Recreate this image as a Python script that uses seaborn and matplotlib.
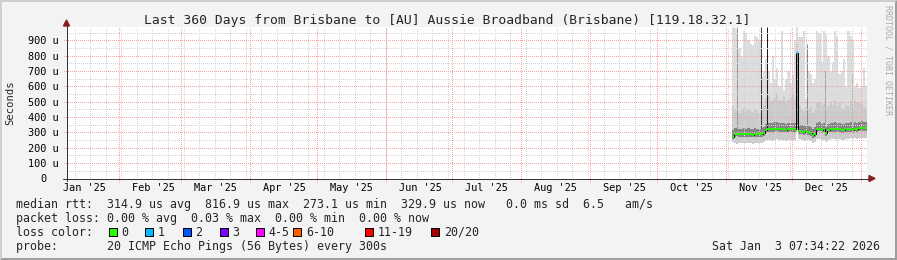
import numpy as np
import pandas as pd
import matplotlib
matplotlib.use("Agg")
import matplotlib.pyplot as plt
import matplotlib.transforms as mtransforms
from matplotlib.patches import Rectangle, Polygon
import seaborn as sns

# ---------------- data ----------------
title = "Last 360 Days from Brisbane to [AU] Aussie Broadband (Brisbane) [119.18.32.1]"
range_start = "2025-01-08 07:34:22"
range_end = "2026-01-03 07:34:22"
data_start = "2025-11-03 16:00"          # first daily sample
y_ticks = [100, 200, 300, 400, 500, 600, 700, 800, 900]
month_labels = ["Jan '25", "Feb '25", "Mar '25", "Apr '25", "May '25", "Jun '25",
                "Jul '25", "Aug '25", "Sep '25", "Oct '25", "Nov '25", "Dec '25"]

# median rtt per day (microseconds)
median_us = [273, 290, 292, 289, 288, 290, 287, 289, 288, 286, 290, 289, 287, 291, 296,
             318, 322, 323, 321, 325, 326, 323, 321, 322, 318, 320, 322, 324, 320, 817,
             312, 306, 300, 308, 303, 298, 282, 290, 322, 326, 318, 322, 296, 318, 324,
             322, 325, 320, 323, 318, 315, 322, 320, 325, 318, 326, 324, 328, 330, 327, 330]
# smoke: lowest ping
min_us = [235, 232, 228, 230, 233, 231, 229, 232, 230, 228, 231, 233, 230, 234, 238,
          248, 252, 250, 246, 252, 255, 250, 248, 251, 246, 249, 252, 253, 248, 300,
          255, 250, 246, 252, 248, 244, 232, 236, 255, 258, 250, 254, 240, 252, 258,
          256, 260, 254, 258, 252, 250, 256, 255, 262, 255, 262, 260, 264, 265, 262, 265]
# smoke: dark core (lower / upper)
q1_us = [258, 272, 274, 271, 270, 272, 269, 271, 270, 268, 272, 271, 269, 273, 278,
         300, 304, 305, 303, 306, 307, 305, 303, 304, 300, 302, 304, 306, 302, 330,
         292, 287, 282, 290, 285, 280, 262, 272, 303, 307, 299, 303, 278, 300, 305,
         303, 306, 301, 304, 299, 297, 303, 301, 306, 299, 307, 305, 309, 311, 308, 311]
q3_us = [315, 328, 330, 326, 325, 328, 324, 327, 326, 323, 328, 326, 324, 330, 338,
         358, 362, 363, 360, 366, 367, 362, 360, 362, 357, 360, 362, 365, 360, 817,
         352, 346, 340, 350, 344, 338, 325, 333, 362, 367, 358, 362, 338, 358, 365,
         362, 366, 360, 364, 358, 355, 362, 360, 366, 358, 367, 365, 370, 372, 368, 371]
# smoke: upper pings (medium grey) and highest ping (light grey)
hi_us = [470, 455, 440, 430, 445, 460, 438, 450, 442, 436, 452, 448, 430, 462, 480,
         520, 540, 500, 510, 530, 560, 515, 505, 540, 498, 512, 530, 545, 520, 880,
         470, 455, 440, 462, 450, 470, 430, 445, 490, 500, 470, 485, 455, 475, 500,
         480, 510, 470, 495, 460, 455, 480, 470, 505, 462, 510, 490, 500, 485, 470, 460]
max_us = [985, 980, 975, 850, 800, 960, 950, 900, 880, 870, 930, 925, 900, 660, 700,
          780, 700, 620, 800, 650, 720, 600, 960, 580, 650, 700, 620, 680, 900, 985,
          924, 920, 960, 520, 700, 680, 620, 650, 960, 950, 760, 960, 940, 800, 700,
          760, 960, 920, 680, 700, 780, 600, 960, 930, 900, 600, 620, 590, 600, 720, 600]
# lost pings (of 20) per day
loss_pings = [0, 0, 0, 0, 0, 0, 0, 0, 0, 0, 0, 0, 0, 0, 0,
              0, 0, 0, 0, 0, 0, 0, 0, 0, 0, 0, 0, 0, 0, 1,
              0, 0, 0, 0, 0, 0, 0, 0, 0, 0, 0, 0, 0, 0, 0,
              0, 0, 0, 0, 0, 0, 0, 0, 0, 0, 0, 0, 0, 0, 0, 0]
# short bursts of high latency (thin dark streaks)
spike_times = ["2025-11-06 05:00", "2025-11-16 16:00", "2025-11-19 12:00",
               "2025-12-07 12:00", "2025-12-15 16:00", "2025-12-27 14:00"]
spike_low = [320, 330, 330, 340, 340, 340]
spike_top = [985, 985, 985, 880, 700, 680]
spike_shade = ["#9a9a9a", "#3a3a3a", "#1a1a1a", "#8a8a8a", "#a8a8a8", "#a8a8a8"]

loss_labels = ["0", "1", "2", "3", "4-5", "6-10", "11-19", "20/20"]
loss_colors = ["#26ff00", "#00b8ff", "#0059ff", "#7e00ff", "#ff00ff", "#ff5e00", "#ff0000", "#a10000"]

stats_line = "median rtt:  314.9 us avg  816.9 us max  273.1 us min  329.9 us now   0.0 ms sd  6.5   am/s"
loss_line = "packet loss: 0.00 % avg  0.03 % max  0.00 % min  0.00 % now"
probe_line = "probe:       20 ICMP Echo Pings (56 Bytes) every 300s"
stamp = "Sat Jan  3 07:34:22 2026"

# ---------------- style ----------------
sns.set_style("white")
MONO = ["DejaVu Sans Mono"]
plt.rcParams["font.family"] = MONO
BG = "#f3f3f3"
W, H = 897, 260
L, R, T, B = 66.5, 866.5, 27.0, 178.5

fig = plt.figure(figsize=(W / 100, H / 100), dpi=100)
fig.patch.set_facecolor(BG)
ax = fig.add_axes([L / W, 1 - B / H, (R - L) / W, (B - T) / H])
ax.set_facecolor("white")
for s in ax.spines.values():
    s.set_visible(False)
ax.set_xticks([])
ax.set_yticks([])

t0, t1 = pd.Timestamp(range_start), pd.Timestamp(range_end)
ax.set_xlim(t0, t1)
ax.set_ylim(0, 988)

def px(x, y):
    return (x / W, 1 - y / H)

# ---------------- smoke ----------------
days = pd.date_range(data_start, periods=len(median_us), freq="D")
edges = days.append(pd.DatetimeIndex([days[-1] + pd.Timedelta(days=1)]))
ext = lambda a: list(a) + [a[-1]]
ax.fill_between(edges, ext(min_us), ext(max_us), step="post", color="#dddddd", lw=0, zorder=1)
ax.fill_between(edges, ext(min_us), ext(hi_us), step="post", color="#cbcbcb", lw=0, zorder=1.1)
ax.fill_between(edges, ext(q1_us), ext(q3_us), step="post", color="#858585", lw=0, zorder=1.2)
ax.vlines(pd.to_datetime(spike_times), spike_low, spike_top, colors=spike_shade, lw=0.72, zorder=1.3)

# ---------------- grid ----------------
gkw = dict(lw=0.72, ls=(0, (1, 1.4)), antialiased=False, clip_on=False, zorder=2)
MINOR = "#d4d4d4"
MAJOR = "#f3a4a4"
for v in range(50, 1000, 100):
    ax.axhline(v, xmin=0, xmax=1, color=MINOR, **gkw)
weeks = pd.date_range(t0.normalize(), t1, freq="W-SUN")
for d in weeks:
    if t0 < d < t1:
        ax.axvline(d, ymin=0, ymax=1, color=MINOR, **gkw)
for v in y_ticks:
    ax.axhline(v, xmin=-3 / 800, xmax=1, color=MAJOR, **gkw)
months = pd.date_range(t0.normalize(), t1, freq="MS")
for d in months:
    if t0 < d < t1:
        ax.axvline(d, ymin=-3 / 151.5, ymax=1, color=MAJOR, **gkw)

# ---------------- median line ----------------
sns.lineplot(x=edges, y=ext(median_us), drawstyle="steps-post", color="black",
             lw=0.72, ax=ax, zorder=3, legend=False)
ax.hlines(median_us, days, edges[1:], colors=[loss_colors[k] for k in loss_pings],
          lw=1.35, zorder=3.1)

# ---------------- axes + arrows ----------------
AX_COL = "#333333"
ARR = "#8e1b1b"
fig.add_artist(plt.Line2D([px(63, 0)[0], px(869, 0)[0]], [px(0, B)[1]] * 2,
                          color=AX_COL, lw=0.72, transform=fig.transFigure))
fig.add_artist(plt.Line2D([px(L, 0)[0]] * 2, [px(0, 181)[1], px(0, 25)[1]],
                          color=AX_COL, lw=0.72, transform=fig.transFigure))
fig.add_artist(Polygon([px(L - 3, 26), px(L + 3, 26), px(L, 20)], closed=True,
                       color=ARR, transform=fig.transFigure))
fig.add_artist(Polygon([px(869, B - 3), px(869, B + 3), px(875, B)], closed=True,
                       color=ARR, transform=fig.transFigure))

# ---------------- tick labels ----------------
ylab_tr = mtransforms.blended_transform_factory(ax.transAxes, ax.transData)
for v in y_ticks:
    ax.text(-7.4 / 800, v, f"{v} u", transform=mtransforms.offset_copy(ylab_tr, fig, y=-3.8, units="dots"),
            ha="right", va="baseline", fontsize=7.4, color="black")
ax.text(-19.6 / 800, 0, "0", transform=mtransforms.offset_copy(ylab_tr, fig, y=-3.8, units="dots"),
        ha="right", va="baseline", fontsize=7.4, color="black")
xlab_tr = mtransforms.blended_transform_factory(ax.transData, ax.transAxes)
mids = pd.date_range("2025-01-01", periods=len(month_labels), freq="MS") + pd.Timedelta(days=15, hours=12)
for d, lab in zip(mids, month_labels):
    ax.text(d, 0, lab, transform=mtransforms.offset_copy(xlab_tr, fig, y=-12.2, units="dots"),
            ha="center", va="baseline", fontsize=7.4, color="black")

fig.text(*px(10.5, 102.5), "Seconds", rotation=90, ha="center", va="center", fontsize=7.6)
fig.text(*px(447, 24), title, ha="center", va="baseline", fontsize=9.4)
fig.text(*px(887.5, 60), "RRDTOOL / TOBI OETIKER", rotation=270, ha="center", va="center",
         fontsize=6.0, color="#ababab")

# ---------------- legend ----------------
LF = 8.4
fig.text(*px(16, 207.7), stats_line, ha="left", va="baseline", fontsize=LF)
fig.text(*px(16, 221.7), loss_line, ha="left", va="baseline", fontsize=LF)
fig.text(*px(16, 235.7), "loss color:", ha="left", va="baseline", fontsize=LF)
fig.text(*px(16, 249.7), probe_line, ha="left", va="baseline", fontsize=LF)
fig.text(*px(880, 249.7), stamp, ha="right", va="baseline", fontsize=LF)
box_x = [108.7, 145.3, 182.7, 219.7, 256.0, 293.3, 364.7, 431.3]
for bx, lab, col in zip(box_x, loss_labels, loss_colors):
    x0, y0 = px(bx, 236)
    fig.add_artist(Rectangle((x0, y0), 8 / W, 8 / H, facecolor=col, edgecolor="black",
                             lw=0.72, transform=fig.transFigure))
    fig.text(*px(bx + 12.6, 235.7), lab, ha="left", va="baseline", fontsize=LF)

# ---------------- 3d frame ----------------
fig.add_artist(Polygon([px(0, H), px(2, H - 2), px(2, 2), px(W - 2, 2), px(W, 0), px(0, 0)],
                       closed=True, color="#cfcfcf", lw=0, transform=fig.transFigure))
fig.add_artist(Polygon([px(2, H - 2), px(W - 2, H - 2), px(W - 2, 2), px(W, 0), px(W, H), px(0, H)],
                       closed=True, color="#9e9e9e", lw=0, transform=fig.transFigure))

fig.savefig("out.png", dpi=100, facecolor=BG)
